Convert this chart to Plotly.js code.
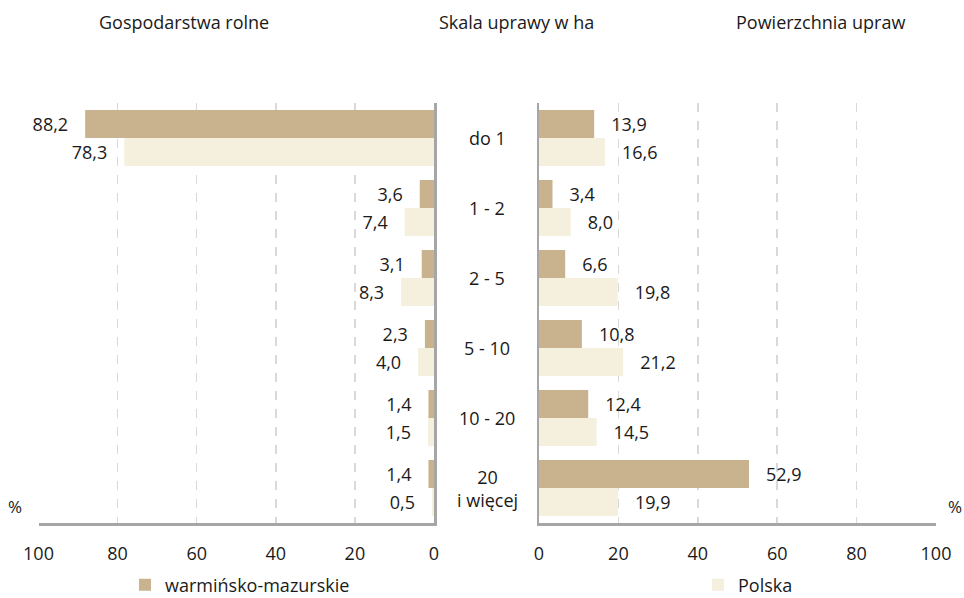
<!DOCTYPE html>
<html>
<head>
<meta charset="utf-8">
<script src="https://cdn.plot.ly/plotly-3.0.1.min.js"></script>
<style>html,body{margin:0;padding:0;background:#fff;}#chart{width:964px;height:598px;}</style>
</head>
<body>
<div id="chart"></div>
<script>
const categories = ['do 1', '1 - 2', '2 - 5', '5 - 10', '10 - 20', '20<br>i więcej'];
const seriesNames = ['warmińsko-mazurskie', 'Polska'];
const farmsWM = [88.2, 3.6, 3.1, 2.3, 1.4, 1.4];
const farmsPL = [78.3, 7.4, 8.3, 4.0, 1.5, 0.5];
const areaWM = [13.9, 3.4, 6.6, 10.8, 12.4, 52.9];
const areaPL = [16.6, 8.0, 19.8, 21.2, 14.5, 19.9];
const tickVals = [0, 20, 40, 60, 80, 100];
const panelTitles = ['Gospodarstwa rolne', 'Skala uprawy w ha', 'Powierzchnia upraw'];

const colWM = '#C9B38F';
const colPL = '#F5EFDD';
const FONT = '"Open Sans", Lato, sans-serif';
const TXT = '#1a1a1a';
const PAD = '\u00A0\u00A0\u00A0';
const fmt = v => v.toFixed(1).replace('.', ',');

function bar(x, name, color, xa, ya, legendId, show, left) {
  return {
    type: 'bar', orientation: 'h', y: categories, x: x, name: name,
    marker: {color: color, line: {width: 0}},
    xaxis: xa, yaxis: ya, showlegend: show, legend: legendId,
    text: x.map(v => left ? fmt(v) + PAD : PAD + fmt(v)),
    textposition: 'outside', cliponaxis: false,
    textfont: {family: FONT, size: 18, color: TXT},
    hoverinfo: 'skip'
  };
}

const data = [
  bar(farmsWM, seriesNames[0], colWM, 'x', 'y', 'legend', true, true),
  bar(farmsPL, seriesNames[1], colPL, 'x', 'y', 'legend2', true, true),
  bar(areaWM, seriesNames[0], colWM, 'x2', 'y2', 'legend', false, false),
  bar(areaPL, seriesNames[1], colPL, 'x2', 'y2', 'legend2', false, false)
];

const xCommon = {
  range: [0, 100], tickvals: tickVals, ticktext: tickVals.map(String),
  showgrid: true, gridcolor: '#D9D9D9', gridwidth: 1.5, griddash: 'dash',
  zeroline: false, showline: true, linecolor: '#A6A6A6', linewidth: 2.5,
  ticks: 'outside', ticklen: 13, tickcolor: 'rgba(0,0,0,0)',
  tickfont: {family: FONT, size: 18, color: TXT}, fixedrange: true
};
const yCommon = {
  categoryorder: 'array', categoryarray: categories, autorange: 'reversed',
  showticklabels: false, showgrid: false, zeroline: false,
  showline: true, linecolor: '#A6A6A6', linewidth: 2.5, ticks: '', fixedrange: true
};

const annotations = [];
const titleX = [184, 516, 820];
panelTitles.forEach((t, i) => annotations.push({
  text: t, xref: 'paper', yref: 'paper', x: titleX[i] / 964, y: 1, yshift: 81,
  xanchor: 'center', yanchor: 'middle', showarrow: false,
  font: {family: FONT, size: 18, color: TXT}
}));
categories.forEach(c => annotations.push({
  text: c, xref: 'paper', yref: 'y', x: 487 / 964, y: c,
  xanchor: 'center', yanchor: 'middle', showarrow: false,
  font: {family: FONT, size: 18, color: TXT}
}));
annotations.push({text: '%', xref: 'paper', yref: 'paper', x: 15 / 964, y: 0, yshift: 3,
  xanchor: 'center', yanchor: 'bottom', showarrow: false, font: {family: FONT, size: 17, color: TXT}});
annotations.push({text: '%', xref: 'paper', yref: 'paper', x: 955 / 964, y: 0, yshift: 3,
  xanchor: 'center', yanchor: 'bottom', showarrow: false, font: {family: FONT, size: 17, color: TXT}});

const legendCommon = {orientation: 'h', xref: 'container', yref: 'container', yanchor: 'middle', xanchor: 'left',
  y: 13 / 598, font: {family: FONT, size: 18, color: TXT}, bgcolor: 'rgba(0,0,0,0)', itemwidth: 30};

const layout = {
  width: 964, height: 598,
  margin: {l: 0, r: 0, t: 103, b: 75},
  paper_bgcolor: '#fff', plot_bgcolor: 'rgba(0,0,0,0)',
  barmode: 'group', bargap: 0.2, bargroupgap: 0,
  xaxis: Object.assign({}, xCommon, {domain: [38.5 / 964, 434 / 964], autorange: false, range: [100, 0], anchor: 'y'}),
  yaxis: Object.assign({}, yCommon, {anchor: 'x', side: 'right'}),
  xaxis2: Object.assign({}, xCommon, {domain: [539 / 964, 936 / 964], anchor: 'y2'}),
  yaxis2: Object.assign({}, yCommon, {anchor: 'x2', side: 'left'}),
  showlegend: true,
  legend: Object.assign({}, legendCommon, {x: 125 / 964}),
  legend2: Object.assign({}, legendCommon, {x: 698 / 964}),
  annotations: annotations,
  font: {family: FONT}
};

Plotly.newPlot('chart', data, layout, {displayModeBar: false, staticPlot: true});
</script>
</body>
</html>
